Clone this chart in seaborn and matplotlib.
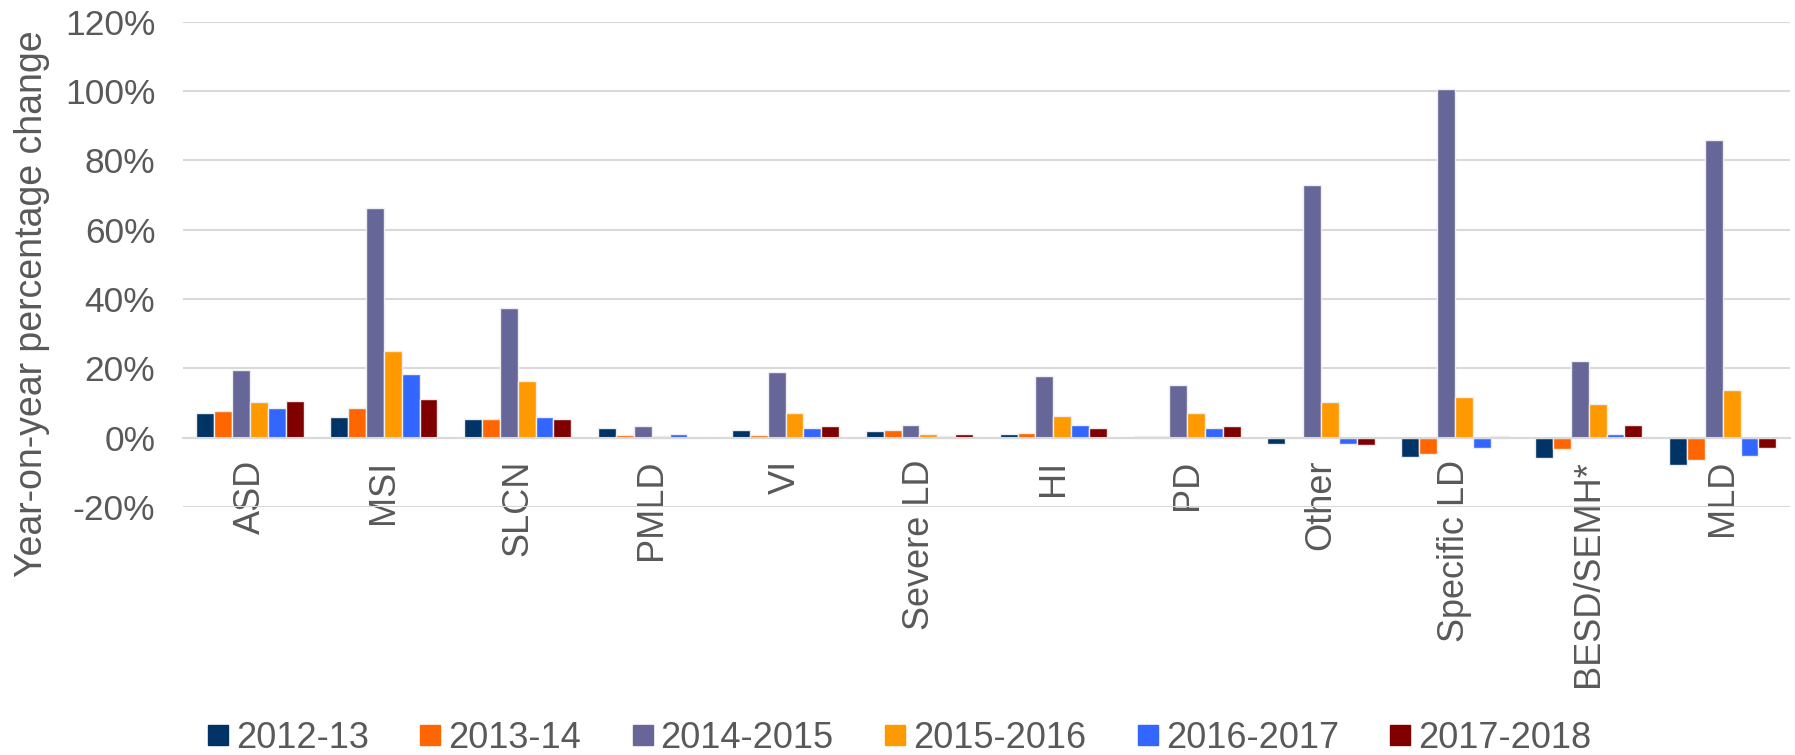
import matplotlib
matplotlib.use("Agg")
import matplotlib.pyplot as plt
from matplotlib.lines import Line2D
from matplotlib.ticker import FuncFormatter, FixedLocator
import seaborn as sns
import pandas as pd
import numpy as np

categories = ["ASD", "MSI", "SLCN", "PMLD", "VI", "Severe LD", "HI", "PD",
              "Other", "Specific LD", "BESD/SEMH*", "MLD"]
years = ["2012-13", "2013-14", "2014-2015", "2015-2016", "2016-2017", "2017-2018"]

v_2012_13 = [7.1, 5.9, 5.5, 2.9, 2.2, 1.9, 1.2, 0.6, -1.9, -5.6, -5.8, -7.8]
v_2013_14 = [7.6, 8.5, 5.3, 0.8, 0.7, 2.2, 1.4, 0.5, 0.3, -4.6, -3.4, -6.5]
v_2014_15 = [19.6, 66.3, 37.4, 3.4, 19.1, 3.7, 17.8, 15.3, 73.0, 100.7, 22.2, 85.8]
v_2015_16 = [10.4, 25.0, 16.5, 0.4, 7.2, 1.0, 6.2, 7.1, 10.2, 11.8, 9.6, 13.7]
v_2016_17 = [8.7, 18.5, 5.9, 1.0, 2.9, 0.4, 3.6, 2.7, -1.9, -3.1, 1.2, -5.4]
v_2017_18 = [10.6, 11.1, 5.5, 0.0, 3.5, 1.1, 2.8, 3.3, -2.0, 0.5, 3.6, -2.9]

series = [v_2012_13, v_2013_14, v_2014_15, v_2015_16, v_2016_17, v_2017_18]
colors = ["#003366", "#FF6600", "#666699", "#FF9900", "#3366FF", "#800000"]

rows = []
for y, vals in zip(years, series):
    for c, v in zip(categories, vals):
        rows.append({"category": c, "year": y, "value": v})
df = pd.DataFrame(rows)

sns.set_style("white")
plt.rcParams["font.family"] = ["Liberation Sans", "DejaVu Sans"]
text_color = "#595959"
grid_color = "#d9d9d9"

fig = plt.figure(figsize=(17.95, 7.55), dpi=100)
ax = fig.add_axes([0.102, 0.3285, 0.895, 0.6425])

sns.barplot(data=df, x="category", y="value", hue="year", order=categories,
            hue_order=years, palette=colors, width=0.8, ax=ax,
            edgecolor="#eeeeee", linewidth=1, legend=False, saturation=1)

ax.set_ylim(-20, 120)
ax.set_xlim(-0.5, len(categories) - 0.5)
ax.set_yticks(np.arange(-20, 121, 20))
ax.yaxis.set_major_formatter(FuncFormatter(lambda x, p: f"{x:.0f}%"))
ax.yaxis.grid(True, color=grid_color, linewidth=1.5)
ax.set_axisbelow(True)

for s in ["top", "right", "left"]:
    ax.spines[s].set_visible(False)
ax.spines["bottom"].set_position(("data", 0))
ax.spines["bottom"].set_color(grid_color)
ax.spines["bottom"].set_linewidth(1.5)

ax.tick_params(axis="y", length=0, pad=20, labelsize=25.5, labelcolor=text_color)
ax.tick_params(axis="x", which="major", length=0, pad=16, labelsize=26,
               labelcolor=text_color)
ax.xaxis.set_minor_locator(FixedLocator(np.arange(-0.5, len(categories), 1.0)))
ax.tick_params(axis="x", which="minor", length=8, width=1.5, color=grid_color,
               direction="out")
for lbl in ax.get_xticklabels():
    lbl.set_rotation(90)
    lbl.set_ha("center")
    lbl.set_va("top")

ax.set_xlabel("")
ax.set_ylabel("Year-on-year percentage change", fontsize=27, color=text_color)
ax.yaxis.set_label_coords(-0.083, 0.419)

handles = [Line2D([0], [0], marker="s", linestyle="none", markersize=14,
                  markerfacecolor=c, markeredgecolor=c) for c in colors]
fig.legend(handles, years, loc="center", bbox_to_anchor=(0.5, 0.022), ncol=6,
           frameon=False, fontsize=26, labelcolor=text_color,
           handletextpad=0.1, columnspacing=1.3, handlelength=0.8)

fig.savefig("out.png", dpi=100)
